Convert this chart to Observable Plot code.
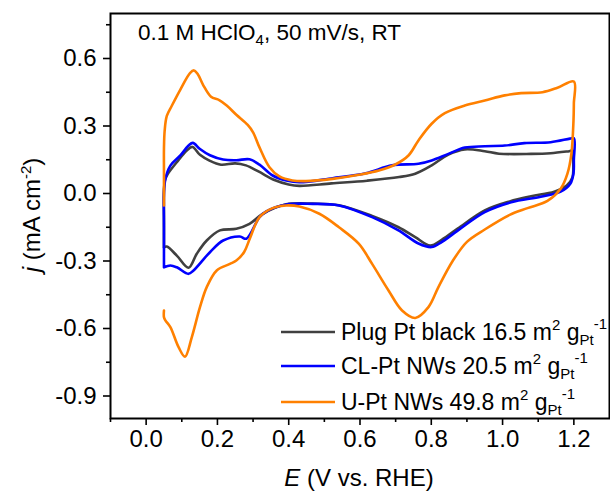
<!DOCTYPE html>
<html>
<head>
<meta charset="utf-8">
<script src="https://cdn.jsdelivr.net/npm/d3@7"></script>
<script src="https://cdn.jsdelivr.net/npm/@observablehq/plot@0.6"></script>
<style>
  html, body { margin: 0; padding: 0; background: #fff; }
  #chart svg { display: block; }
</style>
</head>
<body>
<div id="chart"></div>
<script>
// ---- Data ----
const seriesNames = ["Plug Pt black", "CL-Pt NWs", "U-Pt NWs"];
const seriesAreas = ["16.5", "20.5", "49.8"];
const seriesColors = ["#404040", "#0000ff", "#ff8000"];

const plugE = [0.05,0.05,0.05,0.053,0.06,0.086,0.114,0.13,0.151,0.179,0.21,0.25,0.28,0.315,0.36,0.40,0.43,0.52,0.62,0.71,0.755,0.80,0.848,0.894,0.95,0.99,1.08,1.135,1.187,1.197,
  1.198,1.196,1.18,1.145,1.08,1.02,0.95,0.875,0.83,0.797,0.755,0.708,0.634,0.541,0.467,0.393,0.328,0.29,0.253,0.207,0.17,0.142,0.119,0.086,0.058,0.05];
const plugJ = [-0.24,-0.10,0.02,0.06,0.085,0.139,0.191,0.207,0.172,0.145,0.128,0.134,0.125,0.098,0.06,0.04,0.034,0.045,0.057,0.073,0.088,0.124,0.173,0.196,0.188,0.177,0.176,0.179,0.188,0.19,
  0.15,0.072,0.036,0.008,-0.012,-0.035,-0.075,-0.155,-0.205,-0.231,-0.194,-0.15,-0.10,-0.052,-0.045,-0.048,-0.09,-0.135,-0.157,-0.164,-0.209,-0.268,-0.33,-0.276,-0.236,-0.24];

const clE = [0.05,0.05,0.05,0.054,0.068,0.096,0.119,0.131,0.151,0.179,0.216,0.253,0.29,0.318,0.355,0.393,0.43,0.523,0.616,0.69,0.764,0.801,0.848,0.894,0.95,1.006,1.061,1.135,1.189,1.2,
  1.2,1.199,1.19,1.163,1.107,1.024,0.95,0.875,0.83,0.801,0.764,0.708,0.634,0.541,0.467,0.393,0.337,0.318,0.281,0.263,0.216,0.179,0.133,0.119,0.086,0.068,0.05];
const clJ = [-0.328,-0.15,0.0,0.065,0.124,0.169,0.213,0.225,0.198,0.17,0.151,0.148,0.152,0.128,0.08,0.058,0.05,0.068,0.09,0.125,0.132,0.147,0.176,0.204,0.21,0.213,0.224,0.228,0.244,0.246,
  0.15,0.09,0.043,0.008,-0.014,-0.039,-0.083,-0.164,-0.215,-0.238,-0.222,-0.164,-0.105,-0.053,-0.046,-0.049,-0.08,-0.105,-0.201,-0.191,-0.209,-0.261,-0.342,-0.357,-0.328,-0.32,-0.328];

const uE = [0.05,0.05,0.05,0.052,0.058,0.072,0.096,0.123,0.134,0.145,0.16,0.182,0.205,0.226,0.253,0.285,0.30,0.318,0.346,0.374,0.41,0.448,0.523,0.597,0.653,0.699,0.736,0.764,0.801,0.838,0.894,0.95,1.006,1.052,1.112,1.154,1.2,
  1.2,1.199,1.193,1.182,1.163,1.126,1.07,1.02,0.95,0.9,0.86,0.82,0.792,0.755,0.718,0.68,0.634,0.597,0.541,0.486,0.43,0.393,0.355,0.318,0.291,0.275,0.253,0.235,0.198,0.17,0.151,0.128,0.109,0.091,0.068,0.054,0.05,0.05];
const uJ = [-0.053,0.1,0.2,0.28,0.345,0.39,0.462,0.535,0.547,0.53,0.482,0.43,0.415,0.391,0.35,0.305,0.272,0.205,0.117,0.076,0.058,0.055,0.065,0.083,0.102,0.129,0.169,0.236,0.31,0.357,0.391,0.413,0.436,0.446,0.45,0.47,0.498,
  0.40,0.324,0.176,0.088,0.021,-0.033,-0.065,-0.095,-0.16,-0.215,-0.30,-0.416,-0.505,-0.553,-0.52,-0.431,-0.313,-0.224,-0.15,-0.09,-0.058,-0.053,-0.065,-0.105,-0.2,-0.26,-0.298,-0.313,-0.342,-0.416,-0.505,-0.639,-0.725,-0.683,-0.594,-0.564,-0.55,-0.52];

const xMajor = [0.0, 0.2, 0.4, 0.6, 0.8, 1.0, 1.2];
const xMinor = [-0.1, 0.1, 0.3, 0.5, 0.7, 0.9, 1.1];
const yMajor = [-0.9, -0.6, -0.3, 0.0, 0.3, 0.6];
const yMinor = [-0.75, -0.45, -0.15, 0.15, 0.45, 0.75];

// ---- Build table ----
const allE = [plugE, clE, uE];
const allJ = [plugJ, clJ, uJ];
const rows = [];
seriesNames.forEach((name, k) => {
  allE[k].forEach((e, i) => rows.push({name, E: e, j: allJ[k][i]}));
});

const FONT = "'Liberation Sans', Arial, Helvetica, sans-serif";
const fmt = d => d.toFixed(1);

const chart = Plot.plot({
  width: 610,
  height: 495,
  marginLeft: 110,
  marginRight: 1,
  marginTop: 13,
  marginBottom: 77,
  style: {fontFamily: FONT, color: "#000", background: "#fff"},
  x: {domain: [-0.1, 1.3]},
  y: {domain: [-1.0, 0.8]},
  color: {domain: seriesNames, range: seriesColors},
  marks: [
    Plot.axisX(xMinor, {tickSize: 4, strokeWidth: 1.6, tickFormat: () => "", label: null}),
    Plot.axisY(yMinor, {tickSize: 4, strokeWidth: 1.6, tickFormat: () => "", label: null}),
    Plot.axisX(xMajor, {tickSize: 7, strokeWidth: 1.6, tickPadding: 4, tickFormat: fmt, fontSize: 24, label: null}),
    Plot.axisY(yMajor, {tickSize: 7, strokeWidth: 1.6, tickPadding: 7, tickFormat: fmt, fontSize: 24, label: null}),
    Plot.line(rows, {x: "E", y: "j", z: "name", stroke: "name", curve: "catmull-rom", strokeWidth: 2.6}),
    Plot.frame({stroke: "#000", strokeWidth: 2})
  ]
});

document.getElementById("chart").appendChild(chart);

// ---- Rich text: titles, annotation, legend ----
const svg = d3.select(chart);
const g = svg.append("g").attr("font-family", FONT).attr("fill", "#000").attr("text-anchor", "start");

// annotation
const ann = g.append("text").attr("x", 138).attr("y", 40).attr("font-size", 22.5).attr("text-anchor", "start");
ann.append("tspan").text("0.1 M HClO");
ann.append("tspan").attr("font-size", 15).attr("dy", 5).text("4");
ann.append("tspan").attr("dy", -5).text(", 50 mV/s, RT");

// x title
const xt = g.append("text").attr("x", 359).attr("y", 486).attr("text-anchor", "middle").attr("font-size", 24);
xt.append("tspan").attr("font-style", "italic").text("E");
xt.append("tspan").text(" (V vs. RHE)");

// y title
const yt = g.append("text").attr("transform", "translate(40,215) rotate(-90)").attr("text-anchor", "middle").attr("font-size", 24);
yt.append("tspan").attr("font-style", "italic").text("j");
yt.append("tspan").text(" (mA cm");
yt.append("tspan").attr("font-size", 15).attr("dy", -9).text("-2");
yt.append("tspan").attr("dy", 9).text(")");

// legend
const legY = [332, 366, 402];
seriesNames.forEach((name, k) => {
  const y = legY[k];
  g.append("line").attr("x1", 281).attr("x2", 335).attr("y1", y).attr("y2", y)
    .attr("stroke", seriesColors[k]).attr("stroke-width", 2.6);
  const t = g.append("text").attr("x", 341).attr("y", y + 8).attr("font-size", 23).attr("text-anchor", "start");
  t.append("tspan").text(name + " " + seriesAreas[k] + " m");
  t.append("tspan").attr("font-size", 15).attr("dy", -10).text("2");
  t.append("tspan").attr("dy", 10).text(" g");
  t.append("tspan").attr("font-size", 15).attr("dy", 5).text("Pt");
  t.append("tspan").attr("font-size", 15).attr("dy", -16).text("-1");
});
</script>
</body>
</html>
